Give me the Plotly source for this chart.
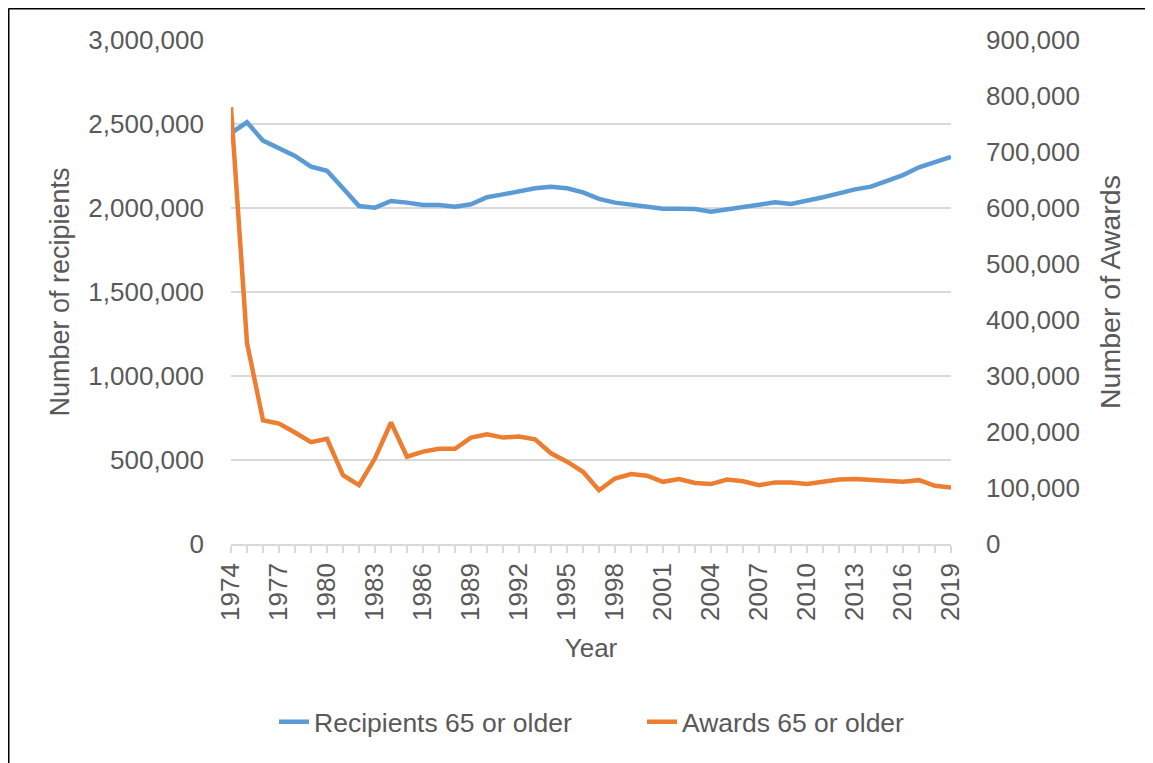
import plotly.graph_objects as go

years = list(range(1974, 2020))
recipients = [2446000, 2510000, 2401000, 2355000, 2310000, 2246000, 2222000, 2117000,
              2012000, 2002000, 2042000, 2032000, 2018000, 2018000, 2008000, 2022000,
              2064000, 2081000, 2100000, 2117000, 2127000, 2117000, 2093000, 2054000,
              2032000, 2018000, 2010000, 1996000, 1996000, 1994000, 1978000, 1992000,
              2000000, 2014000, 2034000, 2024000, 2042000, 2064000, 2087000, 2111000,
              2127000, 2159000, 2196000, 2242000, 2270000, 2304000]
awards = [780000, 359000, 221000, 215000, 199000, 182000, 188000, 123000,
          105000, 153000, 217000, 156000, 165000, 170000, 170000, 190000,
          196000, 190000, 192000, 187000, 162000, 147000, 129000, 96000,
          117000, 125000, 122000, 111000, 116000, 109000, 107000, 115000,
          112000, 105000, 110000, 110000, 107000, 112000, 115000, 116000,
          114000, 114000, 111000, 114000, 104000, 101000]
tick_text = [str(y) if (y - years[0]) % 3 == 0 else "" for y in years]

FONT = "Liberation Sans"
TXT = "#595959"
GRID = "#d9d9d9"

fig = go.Figure()
fig.add_trace(go.Scatter(x=years, y=recipients, name="Recipients 65 or older",
                         mode="lines", line=dict(color="#5B9BD5", width=4.5),
                         yaxis="y", legend="legend"))
fig.add_trace(go.Scatter(x=years, y=awards, name="Awards 65 or older",
                         mode="lines", line=dict(color="#ED7D31", width=4.5),
                         yaxis="y2", legend="legend2"))

# page has an 8px body margin; figure coords = page coords - 8
OFF = 8
W, H = 1153 - OFF, 763 - OFF
L, R, T, B = 231 - OFF, 951 - OFF, 40 - OFF, 544 - OFF
px_x = lambda p: (p - OFF - L) / (R - L)
px_y = lambda p: (B - (p - OFF)) / (B - T)

leg_common = dict(orientation="h", xanchor="left", yanchor="middle",
                  font=dict(family=FONT, size=26.5, color=TXT),
                  bgcolor="rgba(0,0,0,0)")

fig.update_layout(
    width=W, height=H,
    margin=dict(l=L, r=W - R, t=T, b=H - B, autoexpand=False),
    paper_bgcolor="white", plot_bgcolor="white",
    font=dict(family=FONT, size=26, color=TXT),
    showlegend=True,
    legend=dict(x=px_x(274), y=px_y(722), **leg_common),
    legend2=dict(x=px_x(642), y=px_y(722), **leg_common),
    xaxis=dict(range=[years[0], years[-1]], tickmode="array", tickvals=years,
               ticktext=tick_text, tickangle=-90, ticks="outside", ticklen=7,
               tickcolor=GRID, tickwidth=1.5, showgrid=False, zeroline=False,
               showline=True, linecolor=GRID, linewidth=1.5,
               tickfont=dict(family=FONT, size=26, color=TXT), ticklabelstandoff=0,
               title=dict(text="Year", standoff=19,
                          font=dict(family=FONT, size=26, color=TXT)),
               automargin=False),
    xaxis2=dict(range=[years[0], years[-1]], overlaying="x", tickmode="array",
                tickvals=years, ticks="inside", ticklen=7, tickcolor=GRID,
                tickwidth=1.5, showticklabels=False, showgrid=False, zeroline=False,
                showline=False, anchor="y", side="bottom"),
    yaxis=dict(range=[0, 3000000], dtick=500000, tickformat=",d", showgrid=True,
               gridcolor=GRID, gridwidth=1.5, zeroline=False, showline=False,
               ticks="", tickfont=dict(family=FONT, size=26, color=TXT),
               ticklabelstandoff=26,
               title=dict(text="Number of recipients", standoff=10,
                          font=dict(family=FONT, size=27, color=TXT)),
               automargin=False),
    yaxis2=dict(range=[0, 900000], dtick=100000, tickformat=",d", overlaying="y",
                side="right", showgrid=False, zeroline=False, showline=False,
                ticks="", tickfont=dict(family=FONT, size=26, color=TXT),
                ticklabelstandoff=34,
                title=dict(text="Number of Awards", standoff=21,
                           font=dict(family=FONT, size=28.5, color=TXT)),
                automargin=False),
)

# outer frame (top and left edges visible in the reference)
fig.add_shape(type="line", xref="paper", yref="paper",
              x0=px_x(8.5), x1=px_x(1200), y0=px_y(8.5), y1=px_y(8.5),
              line=dict(color="black", width=2))
fig.add_shape(type="line", xref="paper", yref="paper",
              x0=px_x(8.5), x1=px_x(8.5), y0=px_y(8.5), y1=px_y(800),
              line=dict(color="black", width=2))

fig.write_html("out.html")
